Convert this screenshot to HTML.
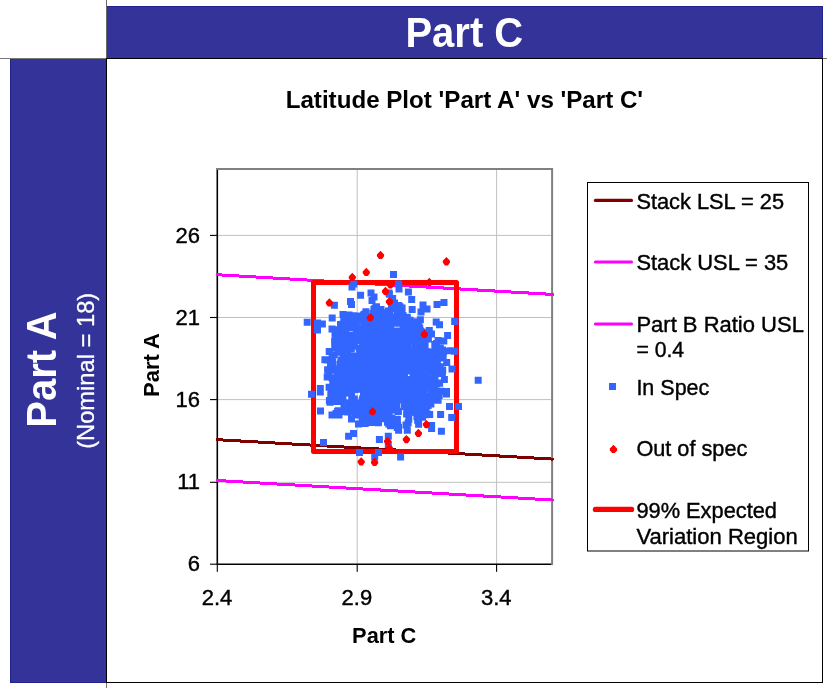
<!DOCTYPE html><html><head><meta charset="utf-8"><title>Latitude Plot</title><style>html,body{margin:0;padding:0;background:#fff;overflow:hidden}svg{display:block}</style></head><body><svg width="827" height="688" viewBox="0 0 827 688" font-family="'Liberation Sans', Arial, sans-serif">
<rect width="827" height="688" fill="#fff"/>
<rect x="107" y="6" width="716" height="52" fill="#333399"/>
<rect x="107" y="6" width="716" height="1" fill="#222290"/><rect x="822" y="6" width="1" height="52" fill="#222290"/>
<rect x="10" y="59" width="96" height="624" fill="#333399"/>
<rect x="10" y="59" width="1" height="624" fill="#222290"/><rect x="10" y="682" width="96" height="1" fill="#222290"/>
<rect x="106" y="0" width="1" height="58" fill="#666"/><rect x="0" y="58" width="106" height="1" fill="#777"/><rect x="823" y="58" width="4" height="1" fill="#777"/><rect x="106" y="683" width="1" height="5" fill="#777"/>
<rect x="106.5" y="58.5" width="716" height="624" fill="none" stroke="#000" stroke-width="1"/>
<text transform="translate(464.3 47.3) scale(1 1.055)" font-size="40" font-weight="bold" fill="#fff" text-anchor="middle">Part C</text>
<text transform="translate(55.5 369.5) rotate(-90) scale(1 1.055)" font-size="40" font-weight="bold" fill="#fff" text-anchor="middle">Part A</text>
<text transform="translate(93.8 370.8) rotate(-90)" font-size="23.7" fill="#fff" stroke="#fff" stroke-width="0.3" text-anchor="middle">(Nominal = 18)</text>
<text x="464.4" y="108" font-size="24.15" font-weight="bold" fill="#000" text-anchor="middle">Latitude Plot 'Part A' vs 'Part C'</text>
<rect x="217.3" y="481.80" width="334.8" height="1" fill="#c0c0c0"/>
<rect x="217.3" y="399.10" width="334.8" height="1" fill="#c0c0c0"/>
<rect x="217.3" y="317.00" width="334.8" height="1" fill="#c0c0c0"/>
<rect x="217.3" y="234.90" width="334.8" height="1" fill="#c0c0c0"/>
<rect x="356.70" y="169.0" width="1" height="395.2" fill="#c0c0c0"/>
<rect x="496.10" y="169.0" width="1" height="395.2" fill="#c0c0c0"/>
<path d="M217.3 168.1V564.2H553.0" fill="none" stroke="#000" stroke-width="1.6"/>
<path d="M216.5 169.0H552.1V564.9000000000001" fill="none" stroke="#808080" stroke-width="2"/>
<rect x="210" y="563.65" width="7.3" height="1.1" fill="#000"/>
<text x="200" y="571.3" font-size="22" stroke="#000" stroke-width="0.4" text-anchor="end">6</text>
<rect x="210" y="481.75" width="7.3" height="1.1" fill="#000"/>
<text x="200" y="489.4" font-size="22" stroke="#000" stroke-width="0.4" text-anchor="end">11</text>
<rect x="210" y="399.05" width="7.3" height="1.1" fill="#000"/>
<text x="200" y="406.7" font-size="22" stroke="#000" stroke-width="0.4" text-anchor="end">16</text>
<rect x="210" y="316.95" width="7.3" height="1.1" fill="#000"/>
<text x="200" y="324.6" font-size="22" stroke="#000" stroke-width="0.4" text-anchor="end">21</text>
<rect x="210" y="234.85" width="7.3" height="1.1" fill="#000"/>
<text x="200" y="242.5" font-size="22" stroke="#000" stroke-width="0.4" text-anchor="end">26</text>
<rect x="216.75" y="564.2" width="1.1" height="7.6" fill="#000"/>
<text x="217.0" y="604.9" font-size="22" stroke="#000" stroke-width="0.4" text-anchor="middle">2.4</text>
<rect x="356.65" y="564.2" width="1.1" height="7.6" fill="#000"/>
<text x="356.9" y="604.9" font-size="22" stroke="#000" stroke-width="0.4" text-anchor="middle">2.9</text>
<rect x="496.05" y="564.2" width="1.1" height="7.6" fill="#000"/>
<text x="496.3" y="604.9" font-size="22" stroke="#000" stroke-width="0.4" text-anchor="middle">3.4</text>
<clipPath id="pc"><rect x="216" y="169.0" width="338.2" height="395.2"/></clipPath>
<g clip-path="url(#pc)">
<g shape-rendering="crispEdges" stroke-width="3" stroke-linecap="round">
<line x1="217" y1="439.65" x2="553" y2="459.1" stroke="#800000"/>
<line x1="217" y1="274.7" x2="553" y2="294.45" stroke="#ff00ff"/>
<line x1="217" y1="480.5" x2="553" y2="500.05" stroke="#ff00ff"/>
</g>
<rect x="313.5" y="282.4" width="143" height="169" fill="none" stroke="#ff0000" stroke-width="5" stroke-linejoin="round"/>
<path d="M432.2 349.0h7.0v7.0h-7.0zM382.5 375.2h7.0v7.0h-7.0zM357.8 363.1h7.0v7.0h-7.0zM381.5 310.4h7.0v7.0h-7.0zM412.0 381.0h7.0v7.0h-7.0zM362.7 357.9h7.0v7.0h-7.0zM396.7 355.2h7.0v7.0h-7.0zM374.2 319.4h7.0v7.0h-7.0zM398.1 366.7h7.0v7.0h-7.0zM389.7 317.2h7.0v7.0h-7.0zM431.0 367.6h7.0v7.0h-7.0zM380.1 319.5h7.0v7.0h-7.0zM413.0 350.5h7.0v7.0h-7.0zM359.2 395.2h7.0v7.0h-7.0zM332.0 379.1h7.0v7.0h-7.0zM345.4 406.9h7.0v7.0h-7.0zM434.5 353.1h7.0v7.0h-7.0zM406.7 357.6h7.0v7.0h-7.0zM398.5 340.4h7.0v7.0h-7.0zM389.6 347.3h7.0v7.0h-7.0zM438.9 370.1h7.0v7.0h-7.0zM384.5 370.6h7.0v7.0h-7.0zM377.5 353.7h7.0v7.0h-7.0zM338.5 378.0h7.0v7.0h-7.0zM378.7 398.8h7.0v7.0h-7.0zM370.4 305.8h7.0v7.0h-7.0zM378.5 414.0h7.0v7.0h-7.0zM370.0 336.3h7.0v7.0h-7.0zM345.7 331.5h7.0v7.0h-7.0zM372.5 327.6h7.0v7.0h-7.0zM426.4 354.5h7.0v7.0h-7.0zM384.8 406.1h7.0v7.0h-7.0zM426.6 356.6h7.0v7.0h-7.0zM391.5 385.1h7.0v7.0h-7.0zM375.7 309.7h7.0v7.0h-7.0zM401.1 389.8h7.0v7.0h-7.0zM394.0 335.3h7.0v7.0h-7.0zM375.6 345.3h7.0v7.0h-7.0zM372.5 401.9h7.0v7.0h-7.0zM427.4 383.1h7.0v7.0h-7.0zM398.0 383.3h7.0v7.0h-7.0zM381.1 360.7h7.0v7.0h-7.0zM361.3 361.3h7.0v7.0h-7.0zM371.2 348.8h7.0v7.0h-7.0zM355.6 374.2h7.0v7.0h-7.0zM393.2 319.7h7.0v7.0h-7.0zM396.1 345.9h7.0v7.0h-7.0zM424.3 367.7h7.0v7.0h-7.0zM433.0 349.3h7.0v7.0h-7.0zM372.9 372.0h7.0v7.0h-7.0zM413.2 380.0h7.0v7.0h-7.0zM344.5 368.5h7.0v7.0h-7.0zM382.2 350.1h7.0v7.0h-7.0zM362.1 415.4h7.0v7.0h-7.0zM369.8 337.6h7.0v7.0h-7.0zM400.6 366.9h7.0v7.0h-7.0zM379.2 386.4h7.0v7.0h-7.0zM396.2 373.9h7.0v7.0h-7.0zM410.4 371.5h7.0v7.0h-7.0zM363.0 352.1h7.0v7.0h-7.0zM365.9 369.3h7.0v7.0h-7.0zM384.1 322.9h7.0v7.0h-7.0zM360.2 377.9h7.0v7.0h-7.0zM365.6 329.3h7.0v7.0h-7.0zM344.2 347.6h7.0v7.0h-7.0zM373.3 338.3h7.0v7.0h-7.0zM373.1 316.9h7.0v7.0h-7.0zM381.9 309.2h7.0v7.0h-7.0zM375.7 383.9h7.0v7.0h-7.0zM414.3 414.4h7.0v7.0h-7.0zM334.8 385.8h7.0v7.0h-7.0zM417.7 392.4h7.0v7.0h-7.0zM353.6 375.4h7.0v7.0h-7.0zM395.8 396.4h7.0v7.0h-7.0zM360.6 380.5h7.0v7.0h-7.0zM349.4 338.6h7.0v7.0h-7.0zM357.0 368.8h7.0v7.0h-7.0zM378.8 391.6h7.0v7.0h-7.0zM353.3 359.1h7.0v7.0h-7.0zM410.3 379.8h7.0v7.0h-7.0zM341.8 383.0h7.0v7.0h-7.0zM367.1 374.6h7.0v7.0h-7.0zM390.5 399.6h7.0v7.0h-7.0zM385.0 307.4h7.0v7.0h-7.0zM340.4 384.9h7.0v7.0h-7.0zM373.8 397.1h7.0v7.0h-7.0zM389.7 340.5h7.0v7.0h-7.0zM414.0 338.8h7.0v7.0h-7.0zM409.7 367.4h7.0v7.0h-7.0zM331.0 393.5h7.0v7.0h-7.0zM338.3 322.7h7.0v7.0h-7.0zM370.6 386.7h7.0v7.0h-7.0zM390.5 387.3h7.0v7.0h-7.0zM368.2 357.8h7.0v7.0h-7.0zM347.4 353.5h7.0v7.0h-7.0zM399.3 354.0h7.0v7.0h-7.0zM395.8 345.8h7.0v7.0h-7.0zM363.7 364.2h7.0v7.0h-7.0zM375.7 380.8h7.0v7.0h-7.0zM386.8 415.2h7.0v7.0h-7.0zM374.9 356.2h7.0v7.0h-7.0zM350.3 363.7h7.0v7.0h-7.0zM402.0 340.8h7.0v7.0h-7.0zM380.0 384.6h7.0v7.0h-7.0zM377.7 347.4h7.0v7.0h-7.0zM410.7 365.9h7.0v7.0h-7.0zM393.4 398.1h7.0v7.0h-7.0zM415.9 352.6h7.0v7.0h-7.0zM365.7 371.5h7.0v7.0h-7.0zM377.5 306.0h7.0v7.0h-7.0zM419.8 363.6h7.0v7.0h-7.0zM403.6 327.8h7.0v7.0h-7.0zM420.1 345.4h7.0v7.0h-7.0zM378.3 321.0h7.0v7.0h-7.0zM376.5 356.1h7.0v7.0h-7.0zM375.9 376.2h7.0v7.0h-7.0zM383.3 392.3h7.0v7.0h-7.0zM367.5 333.1h7.0v7.0h-7.0zM380.9 381.9h7.0v7.0h-7.0zM418.8 387.4h7.0v7.0h-7.0zM328.5 374.3h7.0v7.0h-7.0zM425.3 364.9h7.0v7.0h-7.0zM366.0 372.3h7.0v7.0h-7.0zM366.4 382.2h7.0v7.0h-7.0zM381.1 404.8h7.0v7.0h-7.0zM396.5 341.3h7.0v7.0h-7.0zM399.6 391.1h7.0v7.0h-7.0zM364.4 350.2h7.0v7.0h-7.0zM328.4 356.3h7.0v7.0h-7.0zM404.3 360.3h7.0v7.0h-7.0zM395.7 330.0h7.0v7.0h-7.0zM341.3 389.6h7.0v7.0h-7.0zM396.3 362.1h7.0v7.0h-7.0zM420.0 334.5h7.0v7.0h-7.0zM368.9 393.8h7.0v7.0h-7.0zM436.6 363.3h7.0v7.0h-7.0zM431.9 344.9h7.0v7.0h-7.0zM391.4 357.8h7.0v7.0h-7.0zM333.9 370.7h7.0v7.0h-7.0zM409.5 358.6h7.0v7.0h-7.0zM379.4 404.8h7.0v7.0h-7.0zM344.0 318.1h7.0v7.0h-7.0zM361.9 327.1h7.0v7.0h-7.0zM421.9 372.3h7.0v7.0h-7.0zM355.6 344.6h7.0v7.0h-7.0zM358.6 372.1h7.0v7.0h-7.0zM400.6 369.7h7.0v7.0h-7.0zM354.2 328.2h7.0v7.0h-7.0zM399.4 361.4h7.0v7.0h-7.0zM332.3 398.1h7.0v7.0h-7.0zM404.8 355.8h7.0v7.0h-7.0zM373.7 369.9h7.0v7.0h-7.0zM360.9 322.6h7.0v7.0h-7.0zM391.2 319.8h7.0v7.0h-7.0zM393.2 319.8h7.0v7.0h-7.0zM378.5 358.9h7.0v7.0h-7.0zM339.1 343.6h7.0v7.0h-7.0zM347.8 345.3h7.0v7.0h-7.0zM394.1 386.2h7.0v7.0h-7.0zM431.3 340.9h7.0v7.0h-7.0zM379.0 365.2h7.0v7.0h-7.0zM375.5 339.4h7.0v7.0h-7.0zM400.3 393.2h7.0v7.0h-7.0zM366.9 369.9h7.0v7.0h-7.0zM361.9 339.4h7.0v7.0h-7.0zM383.9 378.7h7.0v7.0h-7.0zM399.1 315.1h7.0v7.0h-7.0zM385.2 416.4h7.0v7.0h-7.0zM381.0 327.3h7.0v7.0h-7.0zM337.7 398.1h7.0v7.0h-7.0zM381.0 379.2h7.0v7.0h-7.0zM409.3 361.5h7.0v7.0h-7.0zM372.2 334.6h7.0v7.0h-7.0zM379.4 357.7h7.0v7.0h-7.0zM393.6 359.2h7.0v7.0h-7.0zM386.3 386.6h7.0v7.0h-7.0zM354.9 354.4h7.0v7.0h-7.0zM333.3 392.2h7.0v7.0h-7.0zM382.7 377.7h7.0v7.0h-7.0zM427.8 395.4h7.0v7.0h-7.0zM379.7 386.6h7.0v7.0h-7.0zM338.5 376.0h7.0v7.0h-7.0zM385.7 314.5h7.0v7.0h-7.0zM421.6 341.9h7.0v7.0h-7.0zM402.0 350.4h7.0v7.0h-7.0zM411.3 402.4h7.0v7.0h-7.0zM356.6 317.1h7.0v7.0h-7.0zM377.6 388.5h7.0v7.0h-7.0zM370.4 344.6h7.0v7.0h-7.0zM361.6 321.5h7.0v7.0h-7.0zM390.3 340.9h7.0v7.0h-7.0zM348.0 352.4h7.0v7.0h-7.0zM337.4 362.6h7.0v7.0h-7.0zM361.0 351.7h7.0v7.0h-7.0zM360.0 390.4h7.0v7.0h-7.0zM378.2 378.7h7.0v7.0h-7.0zM395.9 338.8h7.0v7.0h-7.0zM398.6 373.5h7.0v7.0h-7.0zM390.9 351.0h7.0v7.0h-7.0zM368.7 386.6h7.0v7.0h-7.0zM397.5 352.0h7.0v7.0h-7.0zM405.0 376.1h7.0v7.0h-7.0zM363.5 333.4h7.0v7.0h-7.0zM378.3 341.3h7.0v7.0h-7.0zM362.3 383.5h7.0v7.0h-7.0zM372.2 372.4h7.0v7.0h-7.0zM381.6 352.6h7.0v7.0h-7.0zM340.9 334.7h7.0v7.0h-7.0zM403.2 395.3h7.0v7.0h-7.0zM384.4 337.9h7.0v7.0h-7.0zM384.4 355.8h7.0v7.0h-7.0zM397.9 366.5h7.0v7.0h-7.0zM362.8 368.7h7.0v7.0h-7.0zM346.1 387.6h7.0v7.0h-7.0zM417.0 327.6h7.0v7.0h-7.0zM394.1 333.3h7.0v7.0h-7.0zM413.7 390.1h7.0v7.0h-7.0zM374.6 392.8h7.0v7.0h-7.0zM368.6 343.7h7.0v7.0h-7.0zM364.4 358.8h7.0v7.0h-7.0zM371.8 367.6h7.0v7.0h-7.0zM363.0 385.9h7.0v7.0h-7.0zM412.1 348.1h7.0v7.0h-7.0zM338.7 384.7h7.0v7.0h-7.0zM415.7 358.1h7.0v7.0h-7.0zM342.9 371.0h7.0v7.0h-7.0zM395.8 353.6h7.0v7.0h-7.0zM355.8 377.9h7.0v7.0h-7.0zM342.5 371.9h7.0v7.0h-7.0zM420.9 368.3h7.0v7.0h-7.0zM429.5 355.5h7.0v7.0h-7.0zM350.1 324.1h7.0v7.0h-7.0zM349.5 352.9h7.0v7.0h-7.0zM359.1 339.5h7.0v7.0h-7.0zM390.7 406.5h7.0v7.0h-7.0zM421.2 348.4h7.0v7.0h-7.0zM389.2 367.5h7.0v7.0h-7.0zM397.4 370.7h7.0v7.0h-7.0zM353.2 325.2h7.0v7.0h-7.0zM386.8 327.5h7.0v7.0h-7.0zM422.4 364.2h7.0v7.0h-7.0zM350.7 353.4h7.0v7.0h-7.0zM366.3 359.1h7.0v7.0h-7.0zM409.9 319.7h7.0v7.0h-7.0zM325.5 373.1h7.0v7.0h-7.0zM376.2 367.9h7.0v7.0h-7.0zM394.8 357.6h7.0v7.0h-7.0zM405.5 336.2h7.0v7.0h-7.0zM383.4 338.1h7.0v7.0h-7.0zM347.6 381.5h7.0v7.0h-7.0zM398.6 304.7h7.0v7.0h-7.0zM347.8 371.8h7.0v7.0h-7.0zM413.6 343.0h7.0v7.0h-7.0zM376.0 320.6h7.0v7.0h-7.0zM408.3 382.7h7.0v7.0h-7.0zM409.5 381.2h7.0v7.0h-7.0zM371.4 385.3h7.0v7.0h-7.0zM383.9 401.9h7.0v7.0h-7.0zM359.4 346.8h7.0v7.0h-7.0zM401.3 401.4h7.0v7.0h-7.0zM385.9 341.6h7.0v7.0h-7.0zM377.9 348.1h7.0v7.0h-7.0zM419.4 372.0h7.0v7.0h-7.0zM364.8 398.2h7.0v7.0h-7.0zM431.1 380.5h7.0v7.0h-7.0zM380.8 395.4h7.0v7.0h-7.0zM370.4 385.9h7.0v7.0h-7.0zM360.2 333.9h7.0v7.0h-7.0zM398.5 373.1h7.0v7.0h-7.0zM438.6 354.6h7.0v7.0h-7.0zM382.2 328.8h7.0v7.0h-7.0zM395.4 327.7h7.0v7.0h-7.0zM415.3 405.7h7.0v7.0h-7.0zM372.9 412.8h7.0v7.0h-7.0zM388.3 396.7h7.0v7.0h-7.0zM374.7 391.8h7.0v7.0h-7.0zM353.2 381.7h7.0v7.0h-7.0zM367.7 359.1h7.0v7.0h-7.0zM400.5 368.2h7.0v7.0h-7.0zM379.3 384.8h7.0v7.0h-7.0zM405.6 321.4h7.0v7.0h-7.0zM398.3 383.1h7.0v7.0h-7.0zM358.9 374.6h7.0v7.0h-7.0zM341.8 406.2h7.0v7.0h-7.0zM374.4 360.6h7.0v7.0h-7.0zM417.4 358.7h7.0v7.0h-7.0zM399.5 331.6h7.0v7.0h-7.0zM364.4 321.2h7.0v7.0h-7.0zM375.3 393.9h7.0v7.0h-7.0zM388.2 389.5h7.0v7.0h-7.0zM350.7 336.5h7.0v7.0h-7.0zM367.5 380.2h7.0v7.0h-7.0zM392.2 362.5h7.0v7.0h-7.0zM400.2 358.5h7.0v7.0h-7.0zM380.9 402.1h7.0v7.0h-7.0zM363.9 368.5h7.0v7.0h-7.0zM429.9 366.1h7.0v7.0h-7.0zM402.7 344.8h7.0v7.0h-7.0zM347.5 331.4h7.0v7.0h-7.0zM430.1 373.6h7.0v7.0h-7.0zM373.6 324.5h7.0v7.0h-7.0zM392.4 366.4h7.0v7.0h-7.0zM360.7 318.3h7.0v7.0h-7.0zM348.4 369.4h7.0v7.0h-7.0zM390.8 365.2h7.0v7.0h-7.0zM377.0 309.9h7.0v7.0h-7.0zM383.0 332.0h7.0v7.0h-7.0zM382.8 377.0h7.0v7.0h-7.0zM361.2 332.3h7.0v7.0h-7.0zM411.3 373.6h7.0v7.0h-7.0zM380.0 381.9h7.0v7.0h-7.0zM415.1 342.7h7.0v7.0h-7.0zM362.2 349.7h7.0v7.0h-7.0zM406.6 327.8h7.0v7.0h-7.0zM378.1 335.2h7.0v7.0h-7.0zM389.6 316.4h7.0v7.0h-7.0zM392.8 348.1h7.0v7.0h-7.0zM374.8 378.8h7.0v7.0h-7.0zM411.6 379.7h7.0v7.0h-7.0zM372.7 405.1h7.0v7.0h-7.0zM387.2 401.8h7.0v7.0h-7.0zM363.7 337.0h7.0v7.0h-7.0zM400.5 389.7h7.0v7.0h-7.0zM367.3 323.2h7.0v7.0h-7.0zM374.7 408.0h7.0v7.0h-7.0zM325.7 348.1h7.0v7.0h-7.0zM324.1 366.2h7.0v7.0h-7.0zM407.7 325.7h7.0v7.0h-7.0zM369.2 402.8h7.0v7.0h-7.0zM378.8 325.8h7.0v7.0h-7.0zM404.7 340.6h7.0v7.0h-7.0zM413.0 389.0h7.0v7.0h-7.0zM361.7 347.2h7.0v7.0h-7.0zM404.9 367.5h7.0v7.0h-7.0zM389.5 313.6h7.0v7.0h-7.0zM408.4 336.7h7.0v7.0h-7.0zM370.3 323.1h7.0v7.0h-7.0zM373.7 330.7h7.0v7.0h-7.0zM351.4 407.4h7.0v7.0h-7.0zM373.4 346.9h7.0v7.0h-7.0zM366.2 410.0h7.0v7.0h-7.0zM363.8 381.8h7.0v7.0h-7.0zM389.5 370.2h7.0v7.0h-7.0zM355.2 382.8h7.0v7.0h-7.0zM429.8 361.4h7.0v7.0h-7.0zM353.9 324.3h7.0v7.0h-7.0zM387.2 354.8h7.0v7.0h-7.0zM378.4 363.4h7.0v7.0h-7.0zM337.2 386.4h7.0v7.0h-7.0zM388.5 360.8h7.0v7.0h-7.0zM388.5 390.8h7.0v7.0h-7.0zM383.1 337.5h7.0v7.0h-7.0zM416.5 350.0h7.0v7.0h-7.0zM359.7 316.1h7.0v7.0h-7.0zM381.7 331.6h7.0v7.0h-7.0zM365.9 376.5h7.0v7.0h-7.0zM382.5 393.5h7.0v7.0h-7.0zM390.7 350.9h7.0v7.0h-7.0zM371.6 347.8h7.0v7.0h-7.0zM400.9 363.6h7.0v7.0h-7.0zM369.2 388.3h7.0v7.0h-7.0zM384.4 349.0h7.0v7.0h-7.0zM336.1 376.1h7.0v7.0h-7.0zM388.7 364.5h7.0v7.0h-7.0zM368.5 338.0h7.0v7.0h-7.0zM374.7 369.9h7.0v7.0h-7.0zM377.7 358.7h7.0v7.0h-7.0zM367.5 373.2h7.0v7.0h-7.0zM388.5 340.4h7.0v7.0h-7.0zM404.3 386.7h7.0v7.0h-7.0zM405.9 359.1h7.0v7.0h-7.0zM375.7 328.2h7.0v7.0h-7.0zM369.8 352.8h7.0v7.0h-7.0zM407.2 363.0h7.0v7.0h-7.0zM352.6 320.2h7.0v7.0h-7.0zM359.6 366.2h7.0v7.0h-7.0zM383.2 357.1h7.0v7.0h-7.0zM361.0 356.7h7.0v7.0h-7.0zM411.4 330.0h7.0v7.0h-7.0zM382.5 411.6h7.0v7.0h-7.0zM398.1 349.3h7.0v7.0h-7.0zM401.3 340.4h7.0v7.0h-7.0zM381.7 409.6h7.0v7.0h-7.0zM402.5 421.5h7.0v7.0h-7.0zM365.1 370.8h7.0v7.0h-7.0zM426.7 348.2h7.0v7.0h-7.0zM395.1 361.2h7.0v7.0h-7.0zM323.7 373.4h7.0v7.0h-7.0zM376.0 390.8h7.0v7.0h-7.0zM370.5 376.5h7.0v7.0h-7.0zM387.6 393.7h7.0v7.0h-7.0zM338.3 328.0h7.0v7.0h-7.0zM380.9 343.8h7.0v7.0h-7.0zM359.7 345.8h7.0v7.0h-7.0zM353.7 353.4h7.0v7.0h-7.0zM366.7 404.7h7.0v7.0h-7.0zM391.2 338.4h7.0v7.0h-7.0zM364.0 399.0h7.0v7.0h-7.0zM395.1 371.9h7.0v7.0h-7.0zM403.1 410.6h7.0v7.0h-7.0zM345.0 340.6h7.0v7.0h-7.0zM329.3 377.8h7.0v7.0h-7.0zM370.1 342.8h7.0v7.0h-7.0zM358.6 383.7h7.0v7.0h-7.0zM377.2 347.1h7.0v7.0h-7.0zM419.2 331.6h7.0v7.0h-7.0zM370.5 346.7h7.0v7.0h-7.0zM359.7 358.9h7.0v7.0h-7.0zM405.0 385.6h7.0v7.0h-7.0zM397.8 354.6h7.0v7.0h-7.0zM336.8 371.5h7.0v7.0h-7.0zM427.1 395.1h7.0v7.0h-7.0zM376.5 387.1h7.0v7.0h-7.0zM369.9 361.3h7.0v7.0h-7.0zM344.5 353.5h7.0v7.0h-7.0zM385.7 357.9h7.0v7.0h-7.0zM404.6 419.5h7.0v7.0h-7.0zM421.1 353.9h7.0v7.0h-7.0zM359.6 343.4h7.0v7.0h-7.0zM352.2 364.0h7.0v7.0h-7.0zM394.1 368.5h7.0v7.0h-7.0zM387.3 367.7h7.0v7.0h-7.0zM377.5 340.7h7.0v7.0h-7.0zM433.2 394.4h7.0v7.0h-7.0zM354.3 335.8h7.0v7.0h-7.0zM363.9 364.0h7.0v7.0h-7.0zM419.3 393.4h7.0v7.0h-7.0zM413.5 395.6h7.0v7.0h-7.0zM414.7 385.1h7.0v7.0h-7.0zM395.1 359.4h7.0v7.0h-7.0zM329.2 359.1h7.0v7.0h-7.0zM435.6 346.8h7.0v7.0h-7.0zM362.7 393.5h7.0v7.0h-7.0zM383.9 348.6h7.0v7.0h-7.0zM428.2 381.7h7.0v7.0h-7.0zM404.2 346.1h7.0v7.0h-7.0zM396.4 374.3h7.0v7.0h-7.0zM404.8 397.5h7.0v7.0h-7.0zM415.3 368.1h7.0v7.0h-7.0zM402.2 328.6h7.0v7.0h-7.0zM400.8 383.5h7.0v7.0h-7.0zM369.8 339.8h7.0v7.0h-7.0zM379.7 326.6h7.0v7.0h-7.0zM391.7 371.8h7.0v7.0h-7.0zM353.0 364.4h7.0v7.0h-7.0zM413.5 394.9h7.0v7.0h-7.0zM411.8 358.5h7.0v7.0h-7.0zM371.4 351.3h7.0v7.0h-7.0zM423.7 410.6h7.0v7.0h-7.0zM375.5 350.0h7.0v7.0h-7.0zM419.0 413.7h7.0v7.0h-7.0zM361.6 364.2h7.0v7.0h-7.0zM398.2 348.3h7.0v7.0h-7.0zM362.6 342.7h7.0v7.0h-7.0zM408.0 335.7h7.0v7.0h-7.0zM415.6 365.6h7.0v7.0h-7.0zM404.1 409.4h7.0v7.0h-7.0zM361.4 338.5h7.0v7.0h-7.0zM394.3 332.1h7.0v7.0h-7.0zM359.6 359.6h7.0v7.0h-7.0zM386.2 325.7h7.0v7.0h-7.0zM370.0 380.5h7.0v7.0h-7.0zM420.6 389.4h7.0v7.0h-7.0zM349.0 319.0h7.0v7.0h-7.0zM394.0 350.4h7.0v7.0h-7.0zM385.6 388.7h7.0v7.0h-7.0zM370.4 367.9h7.0v7.0h-7.0zM395.7 389.6h7.0v7.0h-7.0zM388.7 355.9h7.0v7.0h-7.0zM394.3 330.1h7.0v7.0h-7.0zM404.8 339.8h7.0v7.0h-7.0zM367.8 323.1h7.0v7.0h-7.0zM366.0 364.9h7.0v7.0h-7.0zM336.7 336.3h7.0v7.0h-7.0zM379.2 325.3h7.0v7.0h-7.0zM344.1 338.2h7.0v7.0h-7.0zM339.5 381.3h7.0v7.0h-7.0zM351.8 386.0h7.0v7.0h-7.0zM409.1 327.2h7.0v7.0h-7.0zM382.7 348.7h7.0v7.0h-7.0zM347.5 353.0h7.0v7.0h-7.0zM374.3 384.2h7.0v7.0h-7.0zM412.1 330.1h7.0v7.0h-7.0zM369.4 378.9h7.0v7.0h-7.0zM419.7 358.0h7.0v7.0h-7.0zM427.3 350.3h7.0v7.0h-7.0zM356.6 364.3h7.0v7.0h-7.0zM416.5 363.9h7.0v7.0h-7.0zM333.3 333.7h7.0v7.0h-7.0zM344.0 333.4h7.0v7.0h-7.0zM363.2 361.4h7.0v7.0h-7.0zM371.5 318.6h7.0v7.0h-7.0zM376.0 392.2h7.0v7.0h-7.0zM409.9 367.0h7.0v7.0h-7.0zM400.1 389.8h7.0v7.0h-7.0zM371.9 354.9h7.0v7.0h-7.0zM403.4 364.7h7.0v7.0h-7.0zM383.1 358.9h7.0v7.0h-7.0zM420.6 354.2h7.0v7.0h-7.0zM412.5 379.6h7.0v7.0h-7.0zM392.2 376.9h7.0v7.0h-7.0zM384.8 330.2h7.0v7.0h-7.0zM403.0 384.4h7.0v7.0h-7.0zM377.2 384.9h7.0v7.0h-7.0zM408.5 324.6h7.0v7.0h-7.0zM377.2 349.7h7.0v7.0h-7.0zM354.3 372.7h7.0v7.0h-7.0zM356.2 350.0h7.0v7.0h-7.0zM388.9 373.5h7.0v7.0h-7.0zM366.4 370.5h7.0v7.0h-7.0zM345.3 377.4h7.0v7.0h-7.0zM416.1 399.4h7.0v7.0h-7.0zM362.4 354.6h7.0v7.0h-7.0zM419.4 360.2h7.0v7.0h-7.0zM410.3 333.8h7.0v7.0h-7.0zM423.0 393.8h7.0v7.0h-7.0zM395.4 339.0h7.0v7.0h-7.0zM376.7 367.5h7.0v7.0h-7.0zM389.4 359.9h7.0v7.0h-7.0zM374.9 368.8h7.0v7.0h-7.0zM340.3 316.7h7.0v7.0h-7.0zM360.9 310.8h7.0v7.0h-7.0zM398.1 365.9h7.0v7.0h-7.0zM373.9 342.6h7.0v7.0h-7.0zM386.2 368.3h7.0v7.0h-7.0zM391.4 341.1h7.0v7.0h-7.0zM401.0 318.9h7.0v7.0h-7.0zM363.7 326.9h7.0v7.0h-7.0zM405.2 318.4h7.0v7.0h-7.0zM382.4 376.1h7.0v7.0h-7.0zM388.5 314.5h7.0v7.0h-7.0zM404.3 326.7h7.0v7.0h-7.0zM386.9 370.0h7.0v7.0h-7.0zM362.0 382.4h7.0v7.0h-7.0zM350.9 368.7h7.0v7.0h-7.0zM365.1 357.5h7.0v7.0h-7.0zM439.2 366.4h7.0v7.0h-7.0zM348.9 359.5h7.0v7.0h-7.0zM358.4 363.8h7.0v7.0h-7.0zM386.4 365.5h7.0v7.0h-7.0zM384.0 346.7h7.0v7.0h-7.0zM395.0 394.7h7.0v7.0h-7.0zM362.9 361.2h7.0v7.0h-7.0zM383.3 400.6h7.0v7.0h-7.0zM413.9 341.1h7.0v7.0h-7.0zM383.7 318.2h7.0v7.0h-7.0zM352.5 363.5h7.0v7.0h-7.0zM400.4 391.6h7.0v7.0h-7.0zM372.2 322.4h7.0v7.0h-7.0zM393.4 357.8h7.0v7.0h-7.0zM394.2 367.8h7.0v7.0h-7.0zM403.0 382.6h7.0v7.0h-7.0zM406.8 349.2h7.0v7.0h-7.0zM411.4 347.9h7.0v7.0h-7.0zM384.0 418.8h7.0v7.0h-7.0zM392.2 328.0h7.0v7.0h-7.0zM426.2 393.0h7.0v7.0h-7.0zM415.7 368.9h7.0v7.0h-7.0zM391.9 356.0h7.0v7.0h-7.0zM360.5 408.9h7.0v7.0h-7.0zM370.4 348.6h7.0v7.0h-7.0zM368.2 418.9h7.0v7.0h-7.0zM407.8 352.0h7.0v7.0h-7.0zM380.1 378.3h7.0v7.0h-7.0zM408.6 356.5h7.0v7.0h-7.0zM360.9 351.3h7.0v7.0h-7.0zM405.3 415.8h7.0v7.0h-7.0zM385.9 379.7h7.0v7.0h-7.0zM357.1 377.7h7.0v7.0h-7.0zM406.2 318.4h7.0v7.0h-7.0zM366.1 386.7h7.0v7.0h-7.0zM328.7 351.8h7.0v7.0h-7.0zM399.5 312.3h7.0v7.0h-7.0zM369.6 364.6h7.0v7.0h-7.0zM408.2 324.6h7.0v7.0h-7.0zM414.8 372.2h7.0v7.0h-7.0zM417.4 397.9h7.0v7.0h-7.0zM391.7 377.6h7.0v7.0h-7.0zM351.3 352.6h7.0v7.0h-7.0zM371.9 323.4h7.0v7.0h-7.0zM334.8 407.3h7.0v7.0h-7.0zM384.5 412.1h7.0v7.0h-7.0zM417.0 335.4h7.0v7.0h-7.0zM369.3 328.7h7.0v7.0h-7.0zM402.2 367.1h7.0v7.0h-7.0zM361.4 352.6h7.0v7.0h-7.0zM386.3 365.2h7.0v7.0h-7.0zM404.2 352.4h7.0v7.0h-7.0zM371.2 381.0h7.0v7.0h-7.0zM390.9 395.8h7.0v7.0h-7.0zM374.0 360.0h7.0v7.0h-7.0zM346.8 408.0h7.0v7.0h-7.0zM339.7 369.1h7.0v7.0h-7.0zM354.7 373.1h7.0v7.0h-7.0zM403.8 313.8h7.0v7.0h-7.0zM375.2 310.3h7.0v7.0h-7.0zM423.6 349.7h7.0v7.0h-7.0zM334.2 341.9h7.0v7.0h-7.0zM420.8 407.6h7.0v7.0h-7.0zM419.6 339.5h7.0v7.0h-7.0zM376.9 412.0h7.0v7.0h-7.0zM359.6 353.0h7.0v7.0h-7.0zM352.9 328.1h7.0v7.0h-7.0zM417.7 381.9h7.0v7.0h-7.0zM395.0 380.4h7.0v7.0h-7.0zM412.1 408.3h7.0v7.0h-7.0zM381.3 352.8h7.0v7.0h-7.0zM350.8 395.5h7.0v7.0h-7.0zM366.1 318.2h7.0v7.0h-7.0zM373.4 363.7h7.0v7.0h-7.0zM406.5 393.1h7.0v7.0h-7.0zM359.6 339.0h7.0v7.0h-7.0zM371.7 326.7h7.0v7.0h-7.0zM378.2 376.8h7.0v7.0h-7.0zM382.8 314.6h7.0v7.0h-7.0zM345.7 401.6h7.0v7.0h-7.0zM351.1 385.2h7.0v7.0h-7.0zM400.5 353.3h7.0v7.0h-7.0zM351.6 369.3h7.0v7.0h-7.0zM354.9 357.7h7.0v7.0h-7.0zM384.7 341.5h7.0v7.0h-7.0zM374.7 353.7h7.0v7.0h-7.0zM344.4 357.3h7.0v7.0h-7.0zM362.4 308.3h7.0v7.0h-7.0zM371.4 354.5h7.0v7.0h-7.0zM404.8 383.5h7.0v7.0h-7.0zM401.0 372.7h7.0v7.0h-7.0zM343.8 366.7h7.0v7.0h-7.0zM365.9 383.0h7.0v7.0h-7.0zM334.9 327.6h7.0v7.0h-7.0zM365.4 384.1h7.0v7.0h-7.0zM397.9 371.6h7.0v7.0h-7.0zM325.9 396.9h7.0v7.0h-7.0zM353.7 411.5h7.0v7.0h-7.0zM437.5 387.8h7.0v7.0h-7.0zM411.2 325.2h7.0v7.0h-7.0zM411.5 337.3h7.0v7.0h-7.0zM379.5 327.4h7.0v7.0h-7.0zM374.3 363.5h7.0v7.0h-7.0zM389.2 404.9h7.0v7.0h-7.0zM395.9 370.3h7.0v7.0h-7.0zM364.1 398.6h7.0v7.0h-7.0zM393.8 358.2h7.0v7.0h-7.0zM335.9 330.9h7.0v7.0h-7.0zM377.2 415.2h7.0v7.0h-7.0zM415.6 372.8h7.0v7.0h-7.0zM339.1 337.7h7.0v7.0h-7.0zM394.4 386.8h7.0v7.0h-7.0zM342.5 366.3h7.0v7.0h-7.0zM430.4 368.0h7.0v7.0h-7.0zM405.1 394.0h7.0v7.0h-7.0zM400.9 370.9h7.0v7.0h-7.0zM399.6 379.4h7.0v7.0h-7.0zM379.2 378.5h7.0v7.0h-7.0zM339.4 328.7h7.0v7.0h-7.0zM372.6 417.0h7.0v7.0h-7.0zM390.1 327.5h7.0v7.0h-7.0zM386.1 420.5h7.0v7.0h-7.0zM382.1 406.2h7.0v7.0h-7.0zM369.1 322.5h7.0v7.0h-7.0zM352.0 358.5h7.0v7.0h-7.0zM346.1 401.2h7.0v7.0h-7.0zM419.8 354.5h7.0v7.0h-7.0zM338.0 321.8h7.0v7.0h-7.0zM327.0 361.5h7.0v7.0h-7.0zM422.6 407.2h7.0v7.0h-7.0zM381.4 386.6h7.0v7.0h-7.0zM386.1 318.5h7.0v7.0h-7.0zM348.2 392.7h7.0v7.0h-7.0zM344.3 337.9h7.0v7.0h-7.0zM366.2 400.6h7.0v7.0h-7.0zM338.1 393.4h7.0v7.0h-7.0zM384.6 342.6h7.0v7.0h-7.0zM361.9 367.3h7.0v7.0h-7.0zM371.9 307.7h7.0v7.0h-7.0zM387.6 332.9h7.0v7.0h-7.0zM359.0 385.8h7.0v7.0h-7.0zM427.5 359.4h7.0v7.0h-7.0zM395.2 302.1h7.0v7.0h-7.0zM401.6 335.8h7.0v7.0h-7.0zM347.5 340.5h7.0v7.0h-7.0zM338.2 333.3h7.0v7.0h-7.0zM393.9 416.0h7.0v7.0h-7.0zM426.6 384.5h7.0v7.0h-7.0zM377.4 363.8h7.0v7.0h-7.0zM386.4 342.8h7.0v7.0h-7.0zM396.2 353.4h7.0v7.0h-7.0zM398.3 396.2h7.0v7.0h-7.0zM419.3 387.7h7.0v7.0h-7.0zM391.8 351.5h7.0v7.0h-7.0zM352.5 403.8h7.0v7.0h-7.0zM368.1 339.3h7.0v7.0h-7.0zM399.5 312.0h7.0v7.0h-7.0zM384.2 363.7h7.0v7.0h-7.0zM413.4 403.5h7.0v7.0h-7.0zM410.7 330.3h7.0v7.0h-7.0zM375.0 349.6h7.0v7.0h-7.0zM356.0 371.1h7.0v7.0h-7.0zM386.2 367.4h7.0v7.0h-7.0zM439.2 346.6h7.0v7.0h-7.0zM370.4 356.1h7.0v7.0h-7.0zM388.7 373.2h7.0v7.0h-7.0zM371.7 304.6h7.0v7.0h-7.0zM373.0 303.3h7.0v7.0h-7.0zM357.5 346.6h7.0v7.0h-7.0zM385.5 388.0h7.0v7.0h-7.0zM397.4 331.4h7.0v7.0h-7.0zM345.7 323.9h7.0v7.0h-7.0zM419.8 363.9h7.0v7.0h-7.0zM423.6 329.4h7.0v7.0h-7.0zM342.4 373.2h7.0v7.0h-7.0zM350.8 399.6h7.0v7.0h-7.0zM366.9 328.6h7.0v7.0h-7.0zM416.6 345.0h7.0v7.0h-7.0zM378.2 355.9h7.0v7.0h-7.0zM362.2 359.3h7.0v7.0h-7.0zM352.4 355.5h7.0v7.0h-7.0zM328.5 395.4h7.0v7.0h-7.0zM395.2 316.3h7.0v7.0h-7.0zM403.1 389.7h7.0v7.0h-7.0zM392.2 383.6h7.0v7.0h-7.0zM367.7 394.2h7.0v7.0h-7.0zM359.2 408.8h7.0v7.0h-7.0zM404.9 391.9h7.0v7.0h-7.0zM406.6 316.8h7.0v7.0h-7.0zM437.9 349.2h7.0v7.0h-7.0zM374.1 363.5h7.0v7.0h-7.0zM386.0 330.7h7.0v7.0h-7.0zM439.4 354.4h7.0v7.0h-7.0zM336.9 370.2h7.0v7.0h-7.0zM327.8 386.9h7.0v7.0h-7.0zM342.8 372.0h7.0v7.0h-7.0zM370.3 354.3h7.0v7.0h-7.0zM376.4 378.3h7.0v7.0h-7.0zM349.5 334.8h7.0v7.0h-7.0zM327.5 394.0h7.0v7.0h-7.0zM433.9 358.4h7.0v7.0h-7.0zM390.0 337.2h7.0v7.0h-7.0zM430.2 371.1h7.0v7.0h-7.0zM384.1 350.2h7.0v7.0h-7.0zM362.3 353.3h7.0v7.0h-7.0zM367.2 374.6h7.0v7.0h-7.0zM337.9 356.4h7.0v7.0h-7.0zM331.2 344.3h7.0v7.0h-7.0zM324.2 356.5h7.0v7.0h-7.0zM393.5 315.1h7.0v7.0h-7.0zM394.9 408.0h7.0v7.0h-7.0zM330.2 365.4h7.0v7.0h-7.0zM425.8 327.0h7.0v7.0h-7.0zM332.6 376.8h7.0v7.0h-7.0zM394.6 340.6h7.0v7.0h-7.0zM413.6 356.2h7.0v7.0h-7.0zM346.1 370.2h7.0v7.0h-7.0zM345.4 408.3h7.0v7.0h-7.0zM414.2 416.8h7.0v7.0h-7.0zM350.7 342.4h7.0v7.0h-7.0zM410.1 374.1h7.0v7.0h-7.0zM384.7 315.7h7.0v7.0h-7.0zM436.1 379.7h7.0v7.0h-7.0zM371.5 396.2h7.0v7.0h-7.0zM369.6 310.0h7.0v7.0h-7.0zM418.5 328.6h7.0v7.0h-7.0zM372.1 319.3h7.0v7.0h-7.0zM425.9 365.4h7.0v7.0h-7.0zM376.1 347.7h7.0v7.0h-7.0zM354.2 313.2h7.0v7.0h-7.0zM393.2 327.5h7.0v7.0h-7.0zM403.5 348.1h7.0v7.0h-7.0zM321.4 356.3h7.0v7.0h-7.0zM339.4 396.1h7.0v7.0h-7.0zM383.4 364.4h7.0v7.0h-7.0zM358.6 397.2h7.0v7.0h-7.0zM371.0 345.6h7.0v7.0h-7.0zM355.3 324.6h7.0v7.0h-7.0zM439.2 348.0h7.0v7.0h-7.0zM356.3 404.5h7.0v7.0h-7.0zM434.2 391.6h7.0v7.0h-7.0zM376.4 408.2h7.0v7.0h-7.0zM369.2 399.2h7.0v7.0h-7.0zM394.0 373.3h7.0v7.0h-7.0zM348.5 354.1h7.0v7.0h-7.0zM352.8 370.1h7.0v7.0h-7.0zM387.4 365.2h7.0v7.0h-7.0zM361.4 351.9h7.0v7.0h-7.0zM403.5 401.7h7.0v7.0h-7.0zM359.0 358.1h7.0v7.0h-7.0zM435.7 392.0h7.0v7.0h-7.0zM394.5 312.2h7.0v7.0h-7.0zM401.8 340.9h7.0v7.0h-7.0zM358.0 347.9h7.0v7.0h-7.0zM369.3 330.2h7.0v7.0h-7.0zM384.8 326.6h7.0v7.0h-7.0zM384.5 376.6h7.0v7.0h-7.0zM421.6 394.2h7.0v7.0h-7.0zM383.4 353.6h7.0v7.0h-7.0zM331.4 326.2h7.0v7.0h-7.0zM362.2 404.6h7.0v7.0h-7.0zM349.1 407.4h7.0v7.0h-7.0zM358.4 329.0h7.0v7.0h-7.0zM421.9 411.3h7.0v7.0h-7.0zM359.9 337.4h7.0v7.0h-7.0zM380.1 375.3h7.0v7.0h-7.0zM421.3 395.6h7.0v7.0h-7.0zM430.7 350.9h7.0v7.0h-7.0zM391.0 299.6h7.0v7.0h-7.0zM341.1 319.5h7.0v7.0h-7.0zM440.0 347.9h7.0v7.0h-7.0zM433.8 370.0h7.0v7.0h-7.0zM380.8 404.6h7.0v7.0h-7.0zM342.1 327.2h7.0v7.0h-7.0zM366.7 380.9h7.0v7.0h-7.0zM420.1 393.3h7.0v7.0h-7.0zM384.8 380.1h7.0v7.0h-7.0zM345.8 358.8h7.0v7.0h-7.0zM349.4 335.6h7.0v7.0h-7.0zM355.5 328.7h7.0v7.0h-7.0zM380.1 322.6h7.0v7.0h-7.0zM439.7 351.7h7.0v7.0h-7.0zM358.5 378.1h7.0v7.0h-7.0zM339.8 349.6h7.0v7.0h-7.0zM390.1 305.0h7.0v7.0h-7.0zM427.7 355.3h7.0v7.0h-7.0zM388.6 388.3h7.0v7.0h-7.0zM436.8 344.7h7.0v7.0h-7.0zM402.6 376.4h7.0v7.0h-7.0zM340.9 354.7h7.0v7.0h-7.0zM377.5 328.1h7.0v7.0h-7.0zM368.6 347.7h7.0v7.0h-7.0zM334.6 341.5h7.0v7.0h-7.0zM409.6 370.4h7.0v7.0h-7.0zM387.0 323.2h7.0v7.0h-7.0zM346.1 335.9h7.0v7.0h-7.0zM394.0 348.7h7.0v7.0h-7.0zM369.2 341.3h7.0v7.0h-7.0zM415.2 319.7h7.0v7.0h-7.0zM343.0 365.7h7.0v7.0h-7.0zM374.9 399.7h7.0v7.0h-7.0zM355.1 379.6h7.0v7.0h-7.0zM363.8 319.7h7.0v7.0h-7.0zM424.0 330.4h7.0v7.0h-7.0zM386.7 324.2h7.0v7.0h-7.0zM383.2 384.1h7.0v7.0h-7.0zM356.9 383.3h7.0v7.0h-7.0zM379.0 360.1h7.0v7.0h-7.0zM339.3 332.3h7.0v7.0h-7.0zM388.6 382.2h7.0v7.0h-7.0zM411.0 407.3h7.0v7.0h-7.0zM421.2 409.2h7.0v7.0h-7.0zM415.6 367.2h7.0v7.0h-7.0zM414.0 376.4h7.0v7.0h-7.0zM392.7 314.4h7.0v7.0h-7.0zM368.8 349.8h7.0v7.0h-7.0zM379.8 339.0h7.0v7.0h-7.0zM385.6 380.4h7.0v7.0h-7.0zM396.7 313.0h7.0v7.0h-7.0zM341.5 346.0h7.0v7.0h-7.0zM431.5 373.6h7.0v7.0h-7.0zM412.9 331.0h7.0v7.0h-7.0zM379.3 411.7h7.0v7.0h-7.0zM426.8 396.8h7.0v7.0h-7.0zM401.0 403.3h7.0v7.0h-7.0zM398.8 358.9h7.0v7.0h-7.0zM365.0 354.9h7.0v7.0h-7.0zM420.5 392.0h7.0v7.0h-7.0zM386.2 419.2h7.0v7.0h-7.0zM414.9 343.2h7.0v7.0h-7.0zM382.6 309.3h7.0v7.0h-7.0zM360.5 364.6h7.0v7.0h-7.0zM361.7 419.9h7.0v7.0h-7.0zM332.4 410.1h7.0v7.0h-7.0zM390.4 319.7h7.0v7.0h-7.0zM438.5 369.5h7.0v7.0h-7.0zM351.0 372.2h7.0v7.0h-7.0zM409.9 398.1h7.0v7.0h-7.0zM415.4 411.2h7.0v7.0h-7.0zM392.3 360.6h7.0v7.0h-7.0zM330.8 351.5h7.0v7.0h-7.0zM424.1 353.2h7.0v7.0h-7.0zM368.4 357.9h7.0v7.0h-7.0zM393.4 401.2h7.0v7.0h-7.0zM349.7 333.9h7.0v7.0h-7.0zM361.1 411.5h7.0v7.0h-7.0zM394.2 422.1h7.0v7.0h-7.0zM391.9 338.9h7.0v7.0h-7.0zM434.6 337.1h7.0v7.0h-7.0zM425.8 366.1h7.0v7.0h-7.0zM358.4 357.9h7.0v7.0h-7.0zM381.1 403.5h7.0v7.0h-7.0zM393.1 415.8h7.0v7.0h-7.0zM364.5 330.0h7.0v7.0h-7.0zM350.0 341.8h7.0v7.0h-7.0zM360.1 311.5h7.0v7.0h-7.0zM353.5 312.5h7.0v7.0h-7.0zM388.7 390.7h7.0v7.0h-7.0zM397.1 393.4h7.0v7.0h-7.0zM337.1 359.2h7.0v7.0h-7.0zM377.6 325.4h7.0v7.0h-7.0zM345.5 359.8h7.0v7.0h-7.0zM383.8 312.4h7.0v7.0h-7.0zM377.4 352.7h7.0v7.0h-7.0zM434.9 379.5h7.0v7.0h-7.0zM399.2 388.7h7.0v7.0h-7.0zM406.0 359.1h7.0v7.0h-7.0zM397.4 386.0h7.0v7.0h-7.0zM380.5 336.2h7.0v7.0h-7.0zM381.6 345.5h7.0v7.0h-7.0zM387.2 417.7h7.0v7.0h-7.0zM385.0 399.1h7.0v7.0h-7.0zM403.6 376.7h7.0v7.0h-7.0zM335.7 381.3h7.0v7.0h-7.0zM420.8 378.1h7.0v7.0h-7.0zM412.5 382.9h7.0v7.0h-7.0zM388.0 354.8h7.0v7.0h-7.0zM414.9 410.7h7.0v7.0h-7.0zM348.7 378.6h7.0v7.0h-7.0zM393.8 424.1h7.0v7.0h-7.0zM399.3 394.4h7.0v7.0h-7.0zM340.5 403.4h7.0v7.0h-7.0zM365.1 316.2h7.0v7.0h-7.0zM365.5 324.9h7.0v7.0h-7.0zM347.8 371.4h7.0v7.0h-7.0zM408.7 323.9h7.0v7.0h-7.0zM358.2 329.6h7.0v7.0h-7.0zM418.6 356.4h7.0v7.0h-7.0zM350.2 372.4h7.0v7.0h-7.0zM431.4 386.9h7.0v7.0h-7.0zM346.3 386.7h7.0v7.0h-7.0zM406.0 361.4h7.0v7.0h-7.0zM345.3 338.6h7.0v7.0h-7.0zM433.2 344.1h7.0v7.0h-7.0zM360.4 397.7h7.0v7.0h-7.0zM331.6 334.5h7.0v7.0h-7.0zM391.4 338.5h7.0v7.0h-7.0zM398.2 376.7h7.0v7.0h-7.0zM425.2 349.1h7.0v7.0h-7.0zM372.2 412.8h7.0v7.0h-7.0zM412.9 366.3h7.0v7.0h-7.0zM349.1 334.0h7.0v7.0h-7.0zM391.8 420.8h7.0v7.0h-7.0zM372.4 338.2h7.0v7.0h-7.0zM350.1 312.2h7.0v7.0h-7.0zM433.2 380.3h7.0v7.0h-7.0zM424.9 335.6h7.0v7.0h-7.0zM378.3 406.1h7.0v7.0h-7.0zM403.6 355.2h7.0v7.0h-7.0zM353.9 399.8h7.0v7.0h-7.0zM379.0 323.2h7.0v7.0h-7.0zM368.4 405.9h7.0v7.0h-7.0zM417.0 378.4h7.0v7.0h-7.0zM375.2 309.9h7.0v7.0h-7.0zM411.3 326.7h7.0v7.0h-7.0zM377.5 399.7h7.0v7.0h-7.0zM355.0 420.6h7.0v7.0h-7.0zM340.5 359.1h7.0v7.0h-7.0zM389.6 400.2h7.0v7.0h-7.0zM368.1 353.3h7.0v7.0h-7.0zM411.6 387.4h7.0v7.0h-7.0zM390.8 318.5h7.0v7.0h-7.0zM359.8 409.8h7.0v7.0h-7.0zM421.9 367.1h7.0v7.0h-7.0zM411.9 341.5h7.0v7.0h-7.0zM362.7 317.4h7.0v7.0h-7.0zM403.4 362.4h7.0v7.0h-7.0zM434.6 396.8h7.0v7.0h-7.0zM328.7 355.9h7.0v7.0h-7.0zM412.4 409.0h7.0v7.0h-7.0zM401.7 384.5h7.0v7.0h-7.0zM376.0 404.3h7.0v7.0h-7.0zM329.3 379.5h7.0v7.0h-7.0zM366.7 415.1h7.0v7.0h-7.0zM369.0 314.8h7.0v7.0h-7.0zM361.4 365.2h7.0v7.0h-7.0zM405.9 333.4h7.0v7.0h-7.0zM398.9 347.4h7.0v7.0h-7.0zM410.3 399.9h7.0v7.0h-7.0zM411.1 318.2h7.0v7.0h-7.0zM374.5 411.2h7.0v7.0h-7.0zM339.9 353.7h7.0v7.0h-7.0zM400.3 335.5h7.0v7.0h-7.0zM398.5 387.7h7.0v7.0h-7.0zM372.6 400.3h7.0v7.0h-7.0zM417.6 359.8h7.0v7.0h-7.0zM367.0 317.0h7.0v7.0h-7.0zM362.9 372.0h7.0v7.0h-7.0zM408.7 393.1h7.0v7.0h-7.0zM423.0 372.3h7.0v7.0h-7.0zM385.8 378.3h7.0v7.0h-7.0zM413.4 413.3h7.0v7.0h-7.0zM348.0 415.4h7.0v7.0h-7.0zM433.1 340.0h7.0v7.0h-7.0zM362.7 417.0h7.0v7.0h-7.0zM433.6 359.7h7.0v7.0h-7.0zM393.7 334.8h7.0v7.0h-7.0zM374.5 315.6h7.0v7.0h-7.0zM394.7 371.5h7.0v7.0h-7.0zM334.6 348.7h7.0v7.0h-7.0zM339.8 377.8h7.0v7.0h-7.0zM404.3 377.1h7.0v7.0h-7.0zM365.6 323.2h7.0v7.0h-7.0zM388.9 331.1h7.0v7.0h-7.0zM359.9 372.4h7.0v7.0h-7.0zM363.5 321.9h7.0v7.0h-7.0zM381.4 369.3h7.0v7.0h-7.0zM420.9 358.1h7.0v7.0h-7.0zM417.7 400.9h7.0v7.0h-7.0zM359.9 316.7h7.0v7.0h-7.0zM387.0 422.2h7.0v7.0h-7.0zM347.5 403.1h7.0v7.0h-7.0zM352.1 409.2h7.0v7.0h-7.0zM401.8 391.1h7.0v7.0h-7.0zM415.1 373.0h7.0v7.0h-7.0zM338.2 408.3h7.0v7.0h-7.0zM393.2 394.7h7.0v7.0h-7.0zM393.5 406.7h7.0v7.0h-7.0zM363.9 399.2h7.0v7.0h-7.0zM357.3 336.9h7.0v7.0h-7.0zM360.8 373.5h7.0v7.0h-7.0zM368.7 341.1h7.0v7.0h-7.0zM426.6 330.4h7.0v7.0h-7.0zM424.7 376.1h7.0v7.0h-7.0zM362.2 408.0h7.0v7.0h-7.0zM440.9 376.1h7.0v7.0h-7.0zM412.4 390.1h7.0v7.0h-7.0zM402.7 395.7h7.0v7.0h-7.0zM347.2 369.2h7.0v7.0h-7.0zM408.6 347.0h7.0v7.0h-7.0zM372.0 362.0h7.0v7.0h-7.0zM395.4 356.4h7.0v7.0h-7.0zM406.8 392.7h7.0v7.0h-7.0zM411.3 406.0h7.0v7.0h-7.0zM339.1 374.3h7.0v7.0h-7.0zM414.7 397.1h7.0v7.0h-7.0zM386.2 309.0h7.0v7.0h-7.0zM407.7 403.3h7.0v7.0h-7.0zM386.5 385.6h7.0v7.0h-7.0zM397.7 305.2h7.0v7.0h-7.0zM388.9 355.3h7.0v7.0h-7.0zM325.6 383.7h7.0v7.0h-7.0zM405.4 347.4h7.0v7.0h-7.0zM415.9 326.6h7.0v7.0h-7.0zM340.6 340.1h7.0v7.0h-7.0zM358.3 385.5h7.0v7.0h-7.0zM337.0 321.1h7.0v7.0h-7.0zM348.6 340.3h7.0v7.0h-7.0zM344.9 359.2h7.0v7.0h-7.0zM424.6 402.1h7.0v7.0h-7.0zM327.3 366.7h7.0v7.0h-7.0zM405.6 351.9h7.0v7.0h-7.0zM392.8 393.9h7.0v7.0h-7.0zM416.4 337.6h7.0v7.0h-7.0zM419.6 365.5h7.0v7.0h-7.0zM428.0 330.4h7.0v7.0h-7.0zM331.1 338.0h7.0v7.0h-7.0zM383.6 336.6h7.0v7.0h-7.0zM377.1 384.4h7.0v7.0h-7.0zM348.4 361.2h7.0v7.0h-7.0zM369.5 323.4h7.0v7.0h-7.0zM427.4 400.5h7.0v7.0h-7.0zM375.0 418.6h7.0v7.0h-7.0zM334.4 396.6h7.0v7.0h-7.0zM378.8 360.7h7.0v7.0h-7.0zM396.2 358.3h7.0v7.0h-7.0zM436.9 366.7h7.0v7.0h-7.0zM373.3 314.1h7.0v7.0h-7.0zM397.8 312.6h7.0v7.0h-7.0zM402.0 388.1h7.0v7.0h-7.0zM339.4 333.7h7.0v7.0h-7.0zM396.8 319.5h7.0v7.0h-7.0zM430.6 396.2h7.0v7.0h-7.0zM336.9 374.9h7.0v7.0h-7.0zM394.5 342.5h7.0v7.0h-7.0zM406.8 350.9h7.0v7.0h-7.0zM375.9 345.6h7.0v7.0h-7.0zM398.6 304.5h7.0v7.0h-7.0zM344.4 408.5h7.0v7.0h-7.0zM344.4 379.6h7.0v7.0h-7.0zM341.1 342.8h7.0v7.0h-7.0zM338.8 320.8h7.0v7.0h-7.0zM387.8 361.8h7.0v7.0h-7.0zM377.0 316.3h7.0v7.0h-7.0zM363.7 389.6h7.0v7.0h-7.0zM344.9 399.4h7.0v7.0h-7.0zM395.0 424.1h7.0v7.0h-7.0zM372.6 341.9h7.0v7.0h-7.0zM348.1 381.2h7.0v7.0h-7.0zM427.8 389.9h7.0v7.0h-7.0zM386.7 340.5h7.0v7.0h-7.0zM374.7 385.4h7.0v7.0h-7.0zM385.3 420.5h7.0v7.0h-7.0zM358.6 416.0h7.0v7.0h-7.0zM418.1 332.5h7.0v7.0h-7.0zM342.9 340.8h7.0v7.0h-7.0zM388.1 341.8h7.0v7.0h-7.0zM421.7 383.1h7.0v7.0h-7.0zM333.1 332.8h7.0v7.0h-7.0zM385.6 410.6h7.0v7.0h-7.0zM342.0 347.4h7.0v7.0h-7.0zM388.3 414.4h7.0v7.0h-7.0zM405.4 385.6h7.0v7.0h-7.0zM346.7 335.5h7.0v7.0h-7.0zM423.4 384.2h7.0v7.0h-7.0zM326.5 398.7h7.0v7.0h-7.0zM332.3 385.2h7.0v7.0h-7.0zM375.9 365.1h7.0v7.0h-7.0zM420.0 397.2h7.0v7.0h-7.0zM430.6 369.1h7.0v7.0h-7.0zM384.2 399.4h7.0v7.0h-7.0zM371.7 393.8h7.0v7.0h-7.0zM395.9 314.0h7.0v7.0h-7.0zM359.8 348.9h7.0v7.0h-7.0zM384.8 312.4h7.0v7.0h-7.0zM374.8 419.3h7.0v7.0h-7.0zM393.4 335.9h7.0v7.0h-7.0zM364.9 401.8h7.0v7.0h-7.0zM380.6 366.6h7.0v7.0h-7.0zM365.6 411.0h7.0v7.0h-7.0zM420.8 344.1h7.0v7.0h-7.0zM368.0 320.5h7.0v7.0h-7.0zM405.2 408.8h7.0v7.0h-7.0zM364.5 403.0h7.0v7.0h-7.0zM342.6 358.7h7.0v7.0h-7.0zM412.8 324.4h7.0v7.0h-7.0zM353.4 360.6h7.0v7.0h-7.0zM398.1 310.8h7.0v7.0h-7.0zM354.7 407.0h7.0v7.0h-7.0zM370.7 415.0h7.0v7.0h-7.0zM430.3 351.6h7.0v7.0h-7.0zM334.1 407.9h7.0v7.0h-7.0zM399.7 325.5h7.0v7.0h-7.0zM336.5 361.0h7.0v7.0h-7.0zM416.2 324.5h7.0v7.0h-7.0zM397.3 353.3h7.0v7.0h-7.0zM393.6 306.8h7.0v7.0h-7.0zM383.5 347.0h7.0v7.0h-7.0zM390.7 381.3h7.0v7.0h-7.0zM382.4 353.4h7.0v7.0h-7.0zM364.0 404.4h7.0v7.0h-7.0zM333.4 366.5h7.0v7.0h-7.0zM443.2 358.9h7.0v7.0h-7.0zM398.2 392.5h7.0v7.0h-7.0zM390.3 329.0h7.0v7.0h-7.0zM334.6 370.9h7.0v7.0h-7.0zM374.8 327.1h7.0v7.0h-7.0zM327.3 391.3h7.0v7.0h-7.0zM382.5 323.0h7.0v7.0h-7.0zM394.3 364.8h7.0v7.0h-7.0zM378.9 341.2h7.0v7.0h-7.0zM396.5 303.3h7.0v7.0h-7.0zM388.0 301.5h7.0v7.0h-7.0zM351.4 400.2h7.0v7.0h-7.0zM390.0 271.0h7.0v7.0h-7.0zM348.5 283.5h7.0v7.0h-7.0zM350.3 280.5h7.0v7.0h-7.0zM357.1 291.8h7.0v7.0h-7.0zM330.9 301.8h7.0v7.0h-7.0zM347.0 298.0h7.0v7.0h-7.0zM348.0 301.0h7.0v7.0h-7.0zM367.5 289.5h7.0v7.0h-7.0zM370.5 293.5h7.0v7.0h-7.0zM368.5 297.0h7.0v7.0h-7.0zM303.7 318.8h7.0v7.0h-7.0zM314.0 319.5h7.0v7.0h-7.0zM318.9 320.6h7.0v7.0h-7.0zM314.0 326.6h7.0v7.0h-7.0zM328.7 314.6h7.0v7.0h-7.0zM339.5 311.0h7.0v7.0h-7.0zM345.5 311.5h7.0v7.0h-7.0zM350.5 312.5h7.0v7.0h-7.0zM385.5 289.5h7.0v7.0h-7.0zM328.5 325.5h7.0v7.0h-7.0zM331.5 329.5h7.0v7.0h-7.0zM395.1 280.5h7.0v7.0h-7.0zM395.5 285.5h7.0v7.0h-7.0zM404.9 288.5h7.0v7.0h-7.0zM408.2 296.1h7.0v7.0h-7.0zM408.7 305.9h7.0v7.0h-7.0zM419.5 301.5h7.0v7.0h-7.0zM423.5 305.5h7.0v7.0h-7.0zM417.5 308.5h7.0v7.0h-7.0zM433.5 301.0h7.0v7.0h-7.0zM440.5 299.0h7.0v7.0h-7.0zM451.2 317.9h7.0v7.0h-7.0zM432.7 318.5h7.0v7.0h-7.0zM436.0 321.2h7.0v7.0h-7.0zM416.9 316.3h7.0v7.0h-7.0zM444.1 332.1h7.0v7.0h-7.0zM440.3 337.5h7.0v7.0h-7.0zM446.9 347.3h7.0v7.0h-7.0zM385.9 290.7h7.0v7.0h-7.0zM389.1 295.0h7.0v7.0h-7.0zM396.5 303.5h7.0v7.0h-7.0zM451.0 347.8h7.0v7.0h-7.0zM448.5 365.5h7.0v7.0h-7.0zM474.7 376.7h7.0v7.0h-7.0zM443.0 388.0h7.0v7.0h-7.0zM443.0 390.5h7.0v7.0h-7.0zM446.0 403.0h7.0v7.0h-7.0zM455.0 403.0h7.0v7.0h-7.0zM437.1 410.9h7.0v7.0h-7.0zM448.2 414.0h7.0v7.0h-7.0zM437.9 427.8h7.0v7.0h-7.0zM428.1 422.0h7.0v7.0h-7.0zM428.1 425.0h7.0v7.0h-7.0zM415.1 420.7h7.0v7.0h-7.0zM426.2 410.9h7.0v7.0h-7.0zM395.1 426.7h7.0v7.0h-7.0zM403.8 426.7h7.0v7.0h-7.0zM397.1 453.5h7.0v7.0h-7.0zM384.8 432.7h7.0v7.0h-7.0zM308.0 390.8h7.0v7.0h-7.0zM316.8 385.0h7.0v7.0h-7.0zM316.8 388.5h7.0v7.0h-7.0zM317.0 407.6h7.0v7.0h-7.0zM320.0 439.0h7.0v7.0h-7.0zM345.1 432.7h7.0v7.0h-7.0zM350.0 430.0h7.0v7.0h-7.0zM375.9 436.0h7.0v7.0h-7.0zM384.8 440.9h7.0v7.0h-7.0zM356.0 449.0h7.0v7.0h-7.0zM375.0 449.0h7.0v7.0h-7.0zM371.2 453.5h7.0v7.0h-7.0zM328.5 411.5h7.0v7.0h-7.0zM335.5 411.5h7.0v7.0h-7.0z" fill="#3366ff"/>
<path d="M380.5 250.8l3.6 3.7v1.7l-2.1 2.9h-3l-2.1 -2.9v-1.7zM446.4 257.1l3.6 3.7v1.7l-2.1 2.9h-3l-2.1 -2.9v-1.7zM366.3 267.8l3.6 3.7v1.7l-2.1 2.9h-3l-2.1 -2.9v-1.7zM352.3 272.8l3.6 3.7v1.7l-2.1 2.9h-3l-2.1 -2.9v-1.7zM429.3 277.8l3.6 3.7v1.7l-2.1 2.9h-3l-2.1 -2.9v-1.7zM390.4 280.2l3.6 3.7v1.7l-2.1 2.9h-3l-2.1 -2.9v-1.7zM385.5 286.8l3.6 3.7v1.7l-2.1 2.9h-3l-2.1 -2.9v-1.7zM389.4 297.0l3.6 3.7v1.7l-2.1 2.9h-3l-2.1 -2.9v-1.7zM329.4 298.3l3.6 3.7v1.7l-2.1 2.9h-3l-2.1 -2.9v-1.7zM370.3 313.0l3.6 3.7v1.7l-2.1 2.9h-3l-2.1 -2.9v-1.7zM424.3 329.8l3.6 3.7v1.7l-2.1 2.9h-3l-2.1 -2.9v-1.7zM372.5 407.0l3.6 3.7v1.7l-2.1 2.9h-3l-2.1 -2.9v-1.7zM426.4 419.9l3.6 3.7v1.7l-2.1 2.9h-3l-2.1 -2.9v-1.7zM418.4 428.8l3.6 3.7v1.7l-2.1 2.9h-3l-2.1 -2.9v-1.7zM406.4 434.9l3.6 3.7v1.7l-2.1 2.9h-3l-2.1 -2.9v-1.7zM387.6 436.7l3.6 3.7v1.7l-2.1 2.9h-3l-2.1 -2.9v-1.7zM389.3 443.6l3.6 3.7v1.7l-2.1 2.9h-3l-2.1 -2.9v-1.7zM361.2 457.2l3.6 3.7v1.7l-2.1 2.9h-3l-2.1 -2.9v-1.7zM374.6 457.8l3.6 3.7v1.7l-2.1 2.9h-3l-2.1 -2.9v-1.7z" fill="#ff0000"/>
</g>
<text transform="translate(384.2 642.7) scale(1 1.04)" font-size="21.8" font-weight="bold" text-anchor="middle">Part C</text>
<text transform="translate(159.3 365) rotate(-90) scale(1 1.045)" font-size="22" font-weight="bold" text-anchor="middle">Part A</text>
<rect x="587.5" y="182.5" width="221" height="368.5" fill="#fff" stroke="#000" stroke-width="1"/>
<g stroke-width="3.1" stroke-linecap="round">
<line x1="595.4" y1="200.4" x2="631.5" y2="200.4" stroke="#800000"/>
<line x1="595.4" y1="262" x2="631.5" y2="262" stroke="#ff00ff"/>
<line x1="595.4" y1="324" x2="631.5" y2="324" stroke="#ff00ff"/>
</g>
<rect x="609" y="383" width="7" height="7" fill="#3366ff"/>
<path d="M613.45 444.8l3.6 3.7v1.7l-2.1 2.9h-3l-2.1 -2.9v-1.7z" fill="#ff0000"/>
<line x1="595.4" y1="509.4" x2="631.6" y2="509.4" stroke="#ff0000" stroke-width="5.2" stroke-linecap="round"/>
<text x="636.4" y="208.7" font-size="21.8" stroke="#000" stroke-width="0.4">Stack LSL = 25</text>
<text x="636.4" y="269.8" font-size="21.9" stroke="#000" stroke-width="0.4">Stack USL = 35</text>
<text x="636.4" y="331.7" font-size="22" stroke="#000" stroke-width="0.4">Part B Ratio USL</text>
<text x="636.4" y="357.4" font-size="21.2" stroke="#000" stroke-width="0.4">= 0.4</text>
<text x="636.4" y="394.7" font-size="21.5" stroke="#000" stroke-width="0.4">In Spec</text>
<text x="636.4" y="456.4" font-size="21.7" stroke="#000" stroke-width="0.4">Out of spec</text>
<text x="636.4" y="518.4" font-size="21.8" stroke="#000" stroke-width="0.4">99% Expected</text>
<text x="636.4" y="544.1" font-size="22.05" stroke="#000" stroke-width="0.4">Variation Region</text>
</svg></body></html>
